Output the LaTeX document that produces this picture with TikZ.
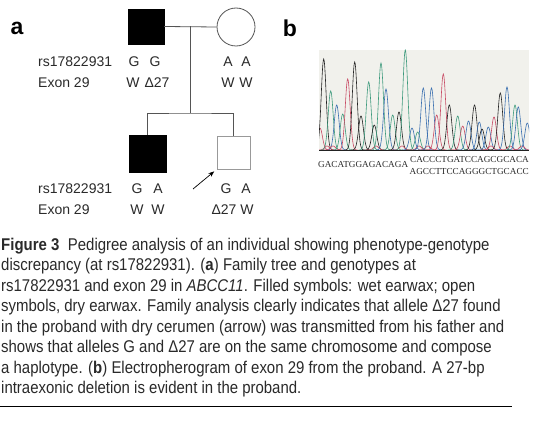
\documentclass[tikz,border=0pt]{standalone}
\usepackage{fontspec}
\setmainfont{Liberation Sans}
\newfontfamily\capfont[FakeStretch=0.88]{Liberation Sans}
\newfontfamily\seqfont{Liberation Serif}
\usetikzlibrary{arrows.meta}
\definecolor{txt}{HTML}{2A2A2A}
\definecolor{lin}{HTML}{555555}
\definecolor{pk}{HTML}{222222}
\definecolor{pg}{HTML}{3D9A7C}
\definecolor{pb}{HTML}{3A6FB0}
\definecolor{pr}{HTML}{C84A64}
\definecolor{bgc}{HTML}{F1F1EC}
\begin{document}
\begin{tikzpicture}[x=1pt,y=-1pt,
  lbl/.style={inner sep=0pt,text=txt,font=\fontsize{14}{16}\selectfont},
  rowlbl/.style={lbl,anchor=west},
  panel/.style={inner sep=0pt,font=\fontsize{23}{24}\selectfont\bfseries},
  capline/.style={inner sep=0pt,anchor=base west,font=\capfont\fontsize{17}{19}\selectfont,text=txt},
  conn/.style={draw=lin,line width=0.8pt},
  seq/.style={inner sep=0pt,font=\seqfont\fontsize{9.2}{10}\selectfont,text=txt}]
\useasboundingbox (0,0) rectangle (553,425);
\fill[white] (0,0) rectangle (553,425);

% panel letters
\node[panel] (pa) at (17,28) {a};
\node[panel] (pbl) at (290,28) {b};

% pedigree
\node[draw=black,fill=black,minimum width=36pt,minimum height=35pt,inner sep=0pt] (father) at (146,26.5) {};
\node[draw=lin,line width=0.8pt,circle,minimum size=38pt,inner sep=0pt] (mother) at (236,27) {};
\node[draw=black,fill=black,minimum width=37pt,minimum height=37pt,inner sep=0pt] (child1) at (147.5,153.5) {};
\node[draw=gray!80,line width=0.9pt,minimum width=33pt,minimum height=33pt,inner sep=0pt] (child2) at (233.5,152.5) {};
\coordinate (mid) at (190,26.5);
\coordinate (sib) at (190,113);
\draw[conn] (father.east) -- (mother.west);
\draw[conn] (mid) -- (sib);
\draw[conn] (child1.north) |- (sib) -| (child2.north);
\coordinate (arrtail) at (193,189);
\draw[line width=0.7pt,-{Stealth[length=6pt,width=4.5pt]},shorten >=3pt] (arrtail) -- (child2.south west);

% genotype labels
\node[rowlbl] (r1) at (38,62) {rs17822931};
\node[rowlbl] (e1) at (38,83) {Exon 29};
\node[lbl] (f1) at (134,62) {G};
\node[lbl] (f2) at (155,62) {G};
\node[lbl] (f3) at (133,83) {W};
\node[lbl] (f4) at (157,83) {Δ27};
\node[lbl] (m1) at (228,62) {A};
\node[lbl] (m2) at (246,62) {A};
\node[lbl] (m3) at (228,83) {W};
\node[lbl] (m4) at (246,83) {W};
\node[rowlbl] (r2) at (38,189) {rs17822931};
\node[rowlbl] (e2) at (38,210) {Exon 29};
\node[lbl] (c1) at (137,189) {G};
\node[lbl] (c2) at (158,189) {A};
\node[lbl] (c3) at (137,210) {W};
\node[lbl] (c4) at (158,210) {W};
\node[lbl] (p1) at (226,189) {G};
\node[lbl] (p2) at (246,189) {A};
\node[lbl] (p3) at (224,210) {Δ27};
\node[lbl] (p4) at (247,210) {W};

% electropherogram
\fill[bgc] (319,50) rectangle (529,151);
\begin{scope}
\clip (319,48) rectangle (529,151);
\foreach \px/\py/\c in {
 320/128/pr, 323.7/59/pk, 327/146/pr, 330.7/91/pg, 336.7/105/pb, 333/146/pr,
 342.7/114/pg, 347.7/79/pr, 354.7/62/pk, 361/116/pk, 368.7/82/pg, 374.3/125/pk,
 376/146/pr, 381/63/pg, 386/89/pb, 392.7/115/pg, 399/112/pk, 402/146/pr, 405.3/50/pg,
 412/128/pb, 417.7/132/pg, 419/146/pr, 423.3/88/pb, 428/146/pr, 431.5/88/pb, 436.7/115/pr,
 443.3/74/pr, 449.3/105/pk, 457.7/116/pg, 462.7/126/pr, 468.5/121/pb, 474.5/105/pk,
 479.3/122/pb, 482/129/pk, 488.3/127/pb, 491/146/pr, 494/117/pr, 500.3/93/pk,
 507/87/pb, 510/146/pr, 515/105/pg, 518.3/107/pb, 522/146/pr, 527.3/123/pb}
{
  \draw[\c,line width=0.6pt] plot[domain=\px-10:\px+10,samples=41,smooth]
     (\x,{150-(150-\py)*exp(-1*((\x-\px)*(\x-\px))/12)});
}
\end{scope}
\draw[pk,line width=0.5pt] (319,150.3) -- (529,150.3);
\node[seq,anchor=west] (s1) at (318,164) {GACATGGAGACAGA};
\node[seq,anchor=east] (s2) at (529,159) {CACCCTGATCCAGCGCACA};
\node[seq,anchor=east] (s3) at (529,171) {AGCCTTCCAGGGCTGCACC};

% caption
\node[capline] (l1) at (1,250) {\textbf{Figure 3}\enspace Pedigree analysis of an individual showing phenotype-genotype};
\node[capline] (l2) at (1,270.5) {discrepancy (at rs17822931). (\textbf{a}) Family tree and genotypes at};
\node[capline] (l3) at (1,291) {rs17822931 and exon 29 in \textit{ABCC11}. Filled symbols: wet earwax; open};
\node[capline] (l4) at (1,311.5) {symbols, dry earwax. Family analysis clearly indicates that allele Δ27 found};
\node[capline] (l5) at (1,332) {in the proband with dry cerumen (arrow) was transmitted from his father and};
\node[capline] (l6) at (1,352.5) {shows that alleles G and Δ27 are on the same chromosome and compose};
\node[capline] (l7) at (1,373) {a haplotype. (\textbf{b}) Electropherogram of exon 29 from the proband. A 27-bp};
\node[capline] (l8) at (1,393.5) {intraexonic deletion is evident in the proband.};
\coordinate (ruleL) at (0,406);
\coordinate (ruleR) at (512,406);
\draw[black,line width=1pt] (ruleL) -- (ruleR);
\end{tikzpicture}
\end{document}
